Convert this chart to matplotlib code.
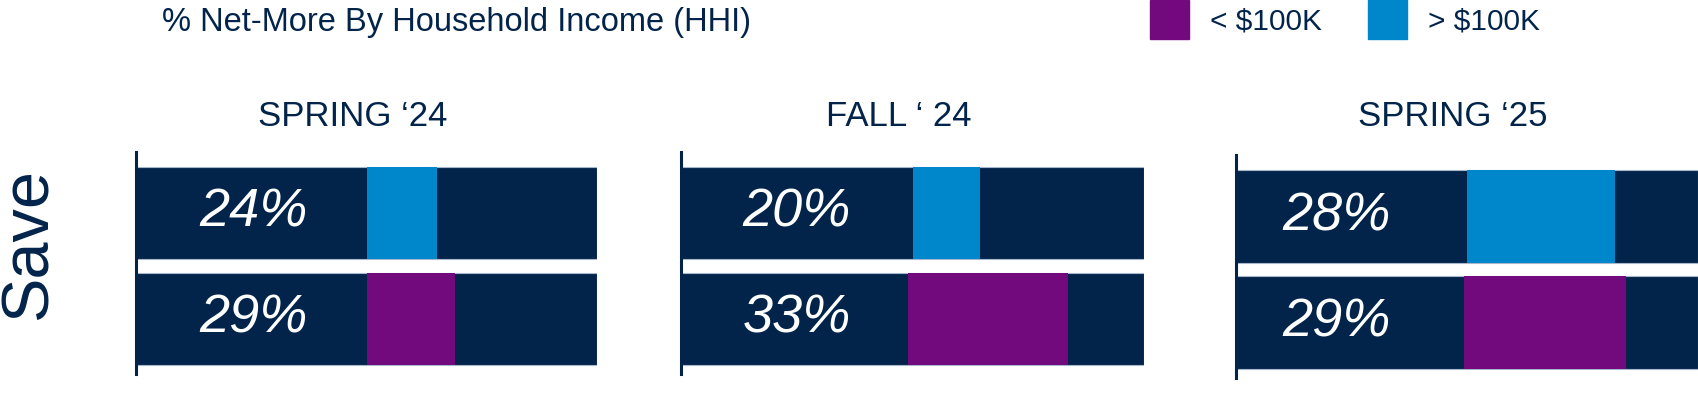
import matplotlib
matplotlib.use("Agg")
import matplotlib.pyplot as plt
from matplotlib.patches import Rectangle

# data
periods = ["SPRING \u201824", "FALL \u2018 24", "SPRING \u201825"]
hi_labels = [24, 20, 28]          # > $100K (top bar)
lo_labels = [29, 33, 29]          # < $100K (bottom bar)
# coloured segment extents, in % of the bar length
hi_start = [50, 50, 50]
hi_end = [65.3, 64.6, 82.1]
lo_start = [50, 49.1, 49.4]
lo_end = [69.2, 83.5, 84.5]

NAVY = "#02244A"
BLUE = "#0086CA"
PURPLE = "#720A7E"
EDGE = "#A9B7CC"

W, H = 1698, 412
fig = plt.figure(figsize=(W / 100, H / 100), dpi=100)

NARROW = ["Liberation Sans Narrow", "Liberation Sans", "DejaVu Sans"]
REG = ["Liberation Sans", "DejaVu Sans"]

# panel frames in pixels: left, top, right, bottom
frames = [(136, 152, 597, 374), (681, 152, 1144, 374), (1236, 155, 1698, 378)]
label_x = [25.4, 25.0, 21.8]

for i, (l, t, r, b) in enumerate(frames):
    ax = fig.add_axes([l / W, 1 - b / H, (r - l) / W, (b - t) / H])
    ax.barh([1, 0], [100, 100], height=0.87, color=NAVY, edgecolor=EDGE, linewidth=0.8)
    ax.barh(1, hi_end[i] - hi_start[i], left=hi_start[i], height=0.87, color=BLUE)
    ax.barh(0, lo_end[i] - lo_start[i], left=lo_start[i], height=0.87, color=PURPLE)
    ax.text(label_x[i], 1.0, f"{hi_labels[i]}%", color="white", style="italic",
            fontsize=39, family=NARROW, ha="center", va="center")
    ax.text(label_x[i], 0.0, f"{lo_labels[i]}%", color="white", style="italic",
            fontsize=39, family=NARROW, ha="center", va="center")
    ax.set_xlim(0, 100)
    ax.set_ylim(-0.52, 1.575)
    for s in ["top", "right", "bottom"]:
        ax.spines[s].set_visible(False)
    ax.spines["left"].set_color(NAVY)
    ax.spines["left"].set_linewidth(2.2)
    ax.set_xticks([])
    ax.set_yticks([])
    ax.patch.set_alpha(0)
    fig.text((l + 0.47 * (r - l)) / W, 1 - 116 / H, periods[i], color=NAVY,
             fontsize=25, family=NARROW, ha="center", va="center")

fig.text(162 / W, 1 - 22 / H, "% Net-More By Household Income (HHI)", color=NAVY,
         fontsize=23.5, family=REG, ha="left", va="center")

fig.text(30 / W, 1 - 244 / H, "Save", color=NAVY, fontsize=48, family=REG,
         rotation=90, ha="center", va="center")

# legend keys
for x0, col, txt in [(1150, PURPLE, "< $100K"), (1368, BLUE, "> $100K")]:
    fig.add_artist(Rectangle((x0 / W, 1 - 39 / H), 39 / W, 39 / H,
                             transform=fig.transFigure, color=col))
    fig.text((x0 + 60) / W, 1 - 22 / H, txt, color=NAVY, fontsize=21.5,
             family=NARROW, ha="left", va="center")

fig.savefig("out.png", dpi=100)
